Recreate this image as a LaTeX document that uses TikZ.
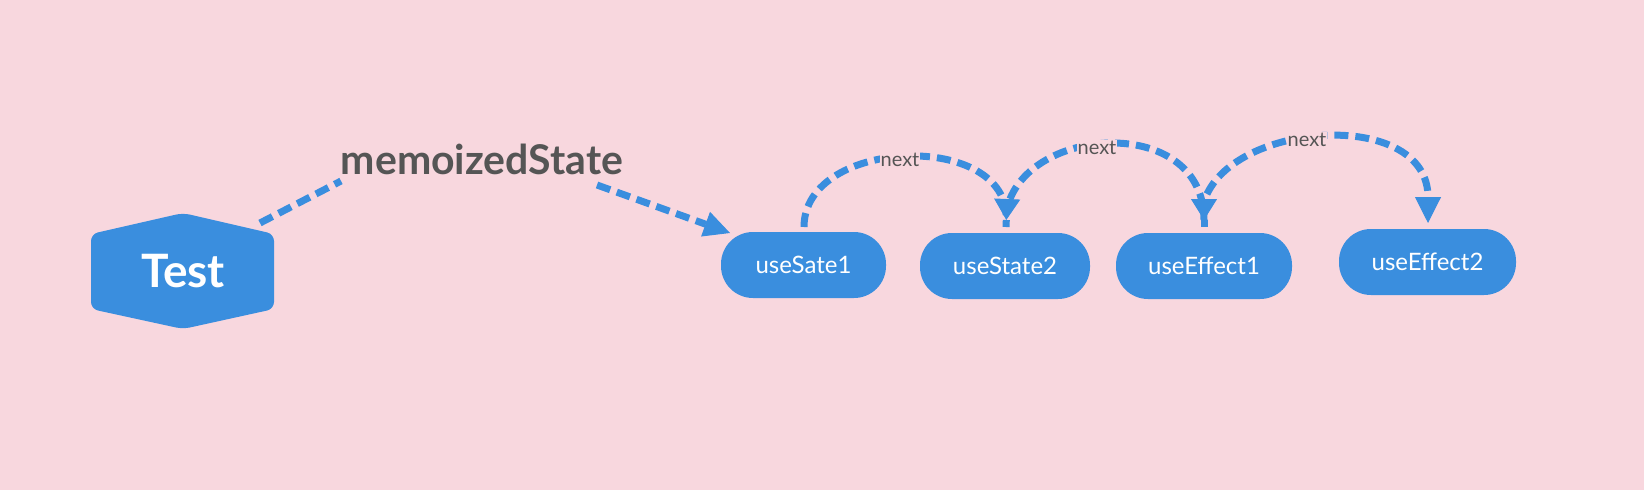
\documentclass[tikz,border=0pt]{standalone}
\usepackage{fontspec}
\setmainfont{Lato}
\usetikzlibrary{arrows.meta}
\definecolor{bg}{HTML}{F8D7DE}
\definecolor{bl}{HTML}{3A8EDE}
\definecolor{tx}{HTML}{555555}
\begin{document}
\begin{tikzpicture}[x=1pt,y=-1pt,
  pill/.style={fill=bl, rounded corners=32pt, minimum height=66pt, text=white,
    font=\fontsize{24}{28}\selectfont, inner sep=0pt},
  dline/.style={draw=bl, line width=7pt, dash pattern=on 14pt off 7pt},
  bigtip/.style={-{Triangle[length=26pt,width=26pt,line width=1pt]}},
  stemtip/.style={-{Triangle[length=21pt,width=26pt,line width=1pt]Rectangle[length=7pt,width=7pt,line width=0pt]}},
  nextlbl/.style={fill=bg, text=tx, font=\fontsize{20}{24}\selectfont, inner sep=1pt}]
\fill[bg] (0,0) rectangle (1644,490);
\useasboundingbox (0,0) rectangle (1644,490);
% Test hexagon
\fill[bl, rounded corners=7pt] (183,213) -- (274,234) -- (274,309) -- (183,329) -- (91,309) -- (91,234) -- cycle;
\node[text=white, font=\bfseries\fontsize{46}{50}\selectfont] (test) at (183,271) {Test};
\coordinate (t1) at (260,223);
% label
\node[text=tx, font=\bfseries\fontsize{41}{46}\selectfont, inner sep=0pt] (memo) at (482,159) {memoizedState};
\coordinate (m1) at (341,181);
\coordinate (m2) at (597,185);
\coordinate (m3) at (730,233);
% pills
\node[pill, minimum width=165pt] (s1) at (803.5,265) {useSate1};
\node[pill, minimum width=170pt] (s2) at (1005,266) {useState2};
\node[pill, minimum width=176pt] (e1) at (1204,266) {useEffect1};
\node[pill, minimum width=177pt] (e2) at (1427.5,262) {useEffect2};
% connectors
\draw[dline] (t1) -- (m1);
\draw[dline, bigtip] (m2) -- (m3);
\coordinate (a1s) at (804,227);
\coordinate (a1e) at (1006,227);
\coordinate (a2s) at (1010,199);
\coordinate (a2e) at (1204,227);
\coordinate (a3s) at (1207,194);
\coordinate (a3e) at (1428,223);
\draw[dline, stemtip] (a1s) .. controls (804,137) and (1010,130) .. (a1e);
\draw[dline, stemtip] (a2s) .. controls (1040,124) and (1204,118) .. (a2e);
\draw[dline, bigtip] (a3s) .. controls (1242,120) and (1428,110) .. (a3e);
\node[nextlbl] (n1) at (900,160) {next};
\node[nextlbl] (n2) at (1097,148) {next};
\node[nextlbl] (n3) at (1307,140) {next};
\end{tikzpicture}
\end{document}
